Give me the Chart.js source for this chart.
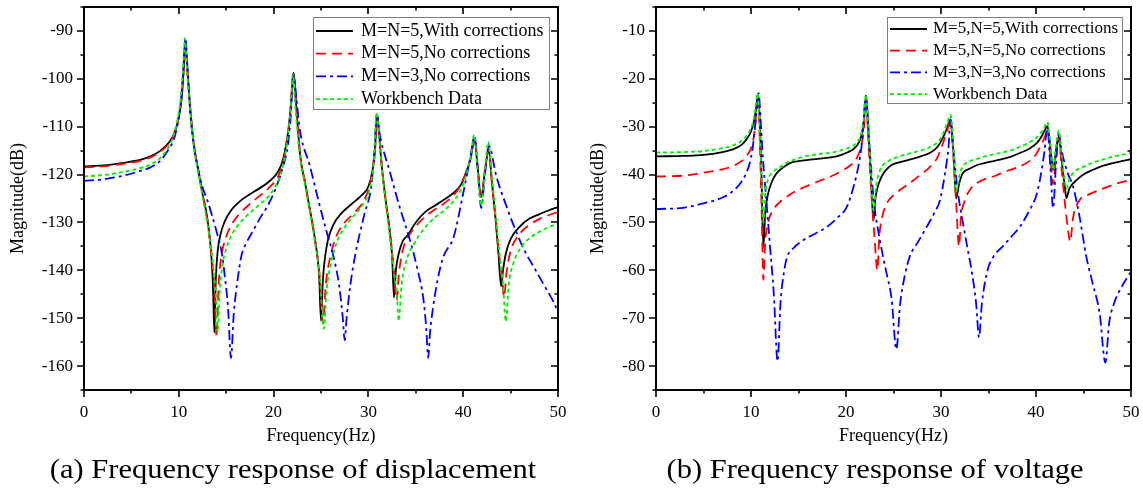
<!DOCTYPE html>
<html>
<head>
<meta charset="utf-8">
<script src="https://cdn.jsdelivr.net/npm/chart.js@4.4.0/dist/chart.umd.min.js"></script>
<style>
  body { margin: 0; background: #fff; width: 1143px; height: 503px; position: relative; overflow: hidden; }
  canvas { position: absolute; top: 0; }
  #dispChart { left: 0; }
  #voltChart { left: 571px; }
  .caption { position: absolute; top: 453px; font: 28px "Liberation Serif", serif; color: #000; white-space: nowrap; transform: translateX(-50%) scaleX(1.09); }
</style>
</head>
<body>
<canvas id="dispChart" width="571" height="455"></canvas>
<canvas id="voltChart" width="572" height="455"></canvas>
<div class="caption" style="left:293px">(a) Frequency response of displacement</div>
<div class="caption" style="left:875px">(b) Frequency response of voltage</div>
<script>
// ---- (a) displacement, dB ----
const dispFreqM5C = [0,2,4,6,7,8,9,9.5,10,10.3,10.5,10.7,10.9,11.2,11.6,12,12.5,13,13.4,13.6,13.75,13.9,14.1,14.4,14.8,15.5,16.5,18,19.5,20.5,21,21.5,21.8,22.1,22.4,22.8,23.3,23.8,24.4,24.8,25.0,25.2,25.6,26.3,27.2,28.2,29.3,30.0,30.4,30.7,30.9,31.1,31.4,31.8,32.2,32.5,32.7,32.9,33.2,33.6,34.2,35,36,37,38,39,39.8,40.4,40.8,41.2,41.5,41.9,42.3,42.7,43.0,43.4,43.7,44.0,44.2,44.5,45,46,47,48,49,50];
const dispMagM5C = [-118.3,-118.1,-117.6,-116.9,-116.2,-115.1,-113.2,-111.5,-108,-104,-98.5,-92.3,-98,-106,-114,-118.5,-124,-129,-136,-143,-153,-142,-136,-132.5,-130,-127.5,-125.5,-123.5,-121.5,-119.3,-116.8,-111.5,-106,-98.7,-106,-116,-121.5,-127,-134,-141,-150.5,-142,-135,-130.5,-128,-126.2,-124.3,-122.5,-119.5,-115,-107.5,-111,-118,-125,-131,-137,-145.7,-140,-136.5,-134,-132.5,-130,-127.8,-126.5,-125.2,-123.8,-122,-119,-116.5,-112.5,-118,-124.7,-119,-114.8,-121,-129,-136,-143.3,-140,-136.5,-133.5,-130.8,-129.2,-128.3,-127.5,-126.8];

const dispFreqM5 = [0,2,4,6,7,8,9,9.5,10,10.3,10.5,10.7,10.9,11.2,11.6,12,12.5,13,13.4,13.7,14.0,14.2,14.5,15,15.7,16.5,18,19.5,20.5,21,21.5,21.8,22.1,22.4,22.8,23.3,23.8,24.4,24.9,25.2,25.5,26,26.7,27.5,28.5,29.5,30.1,30.5,30.75,30.9,31.1,31.4,31.8,32.2,32.6,33.0,33.2,33.6,34.2,35,36,37,38,39,39.8,40.4,40.8,41.2,41.5,41.9,42.3,42.7,43.0,43.4,43.8,44.1,44.3,44.6,45,46,47,48,49,50];
const dispMagM5 = [-118.5,-118.3,-117.8,-117.1,-116.4,-115.3,-113.4,-111.6,-108,-104,-98.5,-92.3,-98,-106,-114,-118.5,-124,-129.5,-136,-142,-153.9,-143,-137,-133,-130,-128,-125.3,-122.8,-120.3,-117.5,-112,-106,-98.7,-106,-116,-121.5,-127,-134,-142,-151.1,-143,-137,-132.5,-130,-128,-125.5,-122.5,-118,-113,-107.5,-111,-118,-125,-131,-138,-146.3,-141,-136,-133,-130.8,-128.8,-127.3,-126,-124.3,-122,-119,-116.5,-112.5,-118,-124.7,-119,-114.8,-121,-129,-137,-141,-145.6,-140,-136,-132.3,-130.5,-129.3,-128.5,-127.8];

const dispFreqM3 = [0,2,4,6,7,8,9,9.5,10,10.3,10.5,10.7,10.9,11.2,11.6,12,12.5,13,13.5,14,14.5,14.9,15.2,15.5,15.8,16.2,16.6,17.2,17.9,18.6,19.3,20.3,21,21.5,21.8,22.1,22.4,22.8,23.8,24.8,25.6,26.3,26.9,27.3,27.5,27.7,28.1,28.6,29.6,30.3,30.6,30.9,31.2,32.3,33.3,34.4,35.2,35.8,36.1,36.3,36.5,36.8,37.3,37.9,39.0,40.0,40.7,41.2,41.5,41.9,42.3,42.7,43.5,44.6,45.6,46.5,47.5,48.5,49.5,50];
const dispMagM3 = [-121.3,-121,-120.3,-119.2,-118.5,-117.2,-114.5,-112.5,-108,-103,-97,-91.5,-97,-107,-114,-118.5,-122.6,-125.3,-128.5,-132,-136,-142,-148,-158.3,-149,-142,-137,-134,-131.5,-129,-126.8,-122.5,-118.3,-114,-108,-99,-104,-111,-118,-126,-132,-137,-143,-150,-154.6,-150,-143,-136.9,-128.1,-122.5,-116,-107.5,-111.6,-119.7,-126.8,-133.8,-140,-146,-152,-158.3,-153,-148,-142,-137.2,-133,-123.9,-117,-112,-118,-127,-120,-114,-120.4,-126.8,-132,-136,-139.5,-143,-146.5,-148.7];

const dispFreqWB = [0,2,4,6,7,8,9,9.5,10,10.3,10.5,10.65,10.85,11.2,11.6,12,12.5,13,13.5,13.9,14.1,14.3,14.6,15,15.6,16.5,17.5,18.5,19.5,20.3,20.9,21.4,21.8,22.05,22.3,22.8,23.3,23.8,24.4,24.9,25.3,25.6,26,26.7,27.5,28.5,29.5,30.2,30.6,30.85,31.1,31.4,31.8,32.2,32.6,33.0,33.2,33.5,34,34.8,35.8,37,38,39,39.8,40.4,40.8,41.15,41.5,41.9,42.3,42.65,43.0,43.4,43.8,44.2,44.5,44.8,45.3,46,47,48,49,50];
const dispMagWB = [-120.4,-120.1,-119.5,-118.6,-117.9,-116.6,-114,-111.5,-107,-102,-96,-91.5,-98,-106.5,-114.5,-119,-124.5,-130,-137,-145,-153,-145,-139,-135.5,-132.5,-130,-128,-126.3,-124.5,-122,-119,-113.5,-106,-99,-106,-116.5,-122,-127.5,-134.5,-142,-152.2,-144,-139,-134,-131,-128.5,-126,-122.5,-116.5,-107,-111.5,-118.5,-125.5,-132,-139,-145,-150.6,-143,-138,-134.5,-131.5,-129,-127.5,-125.5,-123,-119.5,-116,-111.7,-119,-126.5,-119,-113.1,-120,-128,-136,-143,-150.7,-143,-138.5,-135.5,-133.3,-132,-131,-130.2];

// ---- (b) voltage, dB ----
const voltFreqM5C = [0,3,5,7,8,9,9.5,10,10.3,10.55,10.75,10.95,11.1,11.3,11.5,11.8,12.2,12.7,13.4,14.1,15,16.2,17.5,19,20,21.1,21.6,21.9,22.1,22.35,22.6,22.9,23.1,23.6,24.6,25.5,26.7,28,28.8,29.6,30.1,30.6,31.0,31.3,31.6,31.9,32.3,33,33.8,35,36.2,37.3,38.3,39.3,40.1,40.6,40.9,41.2,41.5,41.8,42.1,42.4,42.7,43.0,43.2,43.5,44.3,45,46,47,48.1,49,50];
const voltMagM5C = [-36.2,-36.1,-35.9,-35.3,-34.8,-33.8,-32.7,-31,-29,-26,-23.2,-30,-40,-55.1,-48,-44,-41.5,-39.7,-38.5,-37.6,-37.2,-36.9,-36.6,-36.2,-35.5,-34.1,-32,-28.5,-23.6,-30,-40,-49.5,-45,-41.1,-38.3,-37.5,-36.9,-36.1,-35.5,-34.3,-32.7,-30.5,-28.5,-35,-45,-42,-39.7,-38.8,-38,-37.4,-36.9,-36.3,-35.5,-34.6,-33.4,-32,-30.8,-29.9,-34,-39,-35,-32,-37,-42,-44.9,-43,-41.1,-40,-39,-38.2,-37.6,-37.2,-36.8];

const voltFreqM5 = [0,3,5,7,8,9,9.5,10,10.3,10.5,10.75,10.95,11.15,11.3,11.5,11.8,12.3,13,14,15.5,17,18.5,19.5,20.5,21.1,21.6,21.9,22.1,22.35,22.7,23.0,23.3,23.5,23.8,24.3,25.2,26.7,28,28.8,29.6,30.2,30.7,31.0,31.3,31.6,31.9,32.1,32.5,33.1,34.2,35.5,37,38.3,39.3,40.1,40.6,40.9,41.2,41.5,41.8,42.1,42.4,42.7,43.1,43.4,43.6,43.9,44.6,45.5,46.7,48,49,50];
const voltMagM5 = [-40.4,-40.2,-39.6,-38.9,-38.3,-37.2,-36.2,-34.5,-32,-28.5,-23.5,-35,-50,-62,-54,-50,-47.5,-45.8,-44.3,-42.7,-41.5,-40.3,-39.3,-38,-36.7,-34,-30,-24,-33,-45,-53,-60,-53,-49,-46,-44,-41.8,-39.8,-38.5,-36.5,-33.5,-30.5,-28.5,-36,-46,-55,-49,-45.5,-43,-41.3,-40.4,-39.2,-38.3,-37.2,-35.5,-33.5,-32.3,-30.5,-36,-42,-36.5,-32.5,-39,-47,-52,-54,-49,-45.3,-44.2,-43.2,-42.2,-41.6,-41.1];

const voltFreqM3 = [0,3,5,7,8,9,9.5,10,10.3,10.5,10.8,11.0,11.2,11.6,12,12.4,12.8,13.1,13.5,13.8,14.5,15.5,16.8,18,19.1,20.1,20.8,21.3,21.7,22.1,22.4,22.9,23.5,24.2,24.8,25.3,25.7,26.2,26.7,27.6,28.5,29.3,29.9,30.4,30.8,31.0,31.3,31.8,32.3,32.8,33.3,33.7,34.0,34.3,34.9,35.5,36.5,37.4,38.3,39.3,40.1,40.6,40.9,41.2,41.5,41.8,42.1,42.4,42.7,43.3,43.9,44.6,45.3,46.0,46.7,47.3,47.7,48.2,49,50];
const voltMagM3 = [-47.2,-46.9,-46,-44.8,-43.6,-41.5,-39.7,-36.5,-32.5,-28.5,-23,-28,-35,-45,-55,-65,-79,-67,-60,-57.2,-55.3,-53.7,-52.3,-50.9,-49,-46.7,-42.5,-38.3,-33,-23.5,-32,-45,-53,-60,-66,-76.5,-67,-61,-57.2,-54,-50.9,-48,-45.3,-40,-34,-28.5,-35,-44,-50,-55.5,-61,-67,-74,-67,-60,-57.2,-55,-53,-50.9,-47.5,-43.9,-39,-35,-30,-38,-47,-38,-31.5,-35,-39.5,-42.5,-49,-57.2,-63,-69,-79.3,-71,-67,-63.5,-60.3];

const voltFreqWB = [0,3,5,7,8,9,9.5,10,10.3,10.5,10.7,10.9,11.1,11.3,11.5,11.8,12.3,13,14,15.5,17,19,20,21.1,21.6,21.9,22.1,22.35,22.6,22.9,23.2,23.6,24.6,25.5,26.7,28,28.8,29.6,30.1,30.6,31.0,31.3,31.6,31.9,32.3,33,33.8,35,36.2,37.3,38.3,39.3,40.1,40.6,40.9,41.2,41.5,41.8,42.1,42.4,42.7,43.0,43.2,43.5,44.0,45,46,47,48,49,50];
const voltMagWB = [-35.4,-35.3,-35.1,-34.5,-34,-33,-32,-30.3,-28.3,-25.5,-23,-30,-40,-50,-44,-41,-39.5,-38.5,-37.3,-36.3,-35.8,-35.2,-34.6,-33.4,-31.5,-28,-23.3,-30,-40,-47.5,-42,-39,-37,-36.3,-35.6,-34.9,-34.3,-33.3,-32,-29.5,-27.5,-34,-43.5,-40.5,-38.3,-37.3,-36.7,-36,-35.5,-35,-34.2,-33.3,-32.2,-31,-30,-29,-33.5,-39,-34,-30.8,-36,-41,-43,-41,-39.5,-38.4,-37.5,-36.9,-36.3,-35.9,-35.5];

const dispLabels = ['M=N=5,With corrections', 'M=N=5,No corrections', 'M=N=3,No corrections', 'Workbench Data'];
const voltLabels = ['M=5,N=5,With corrections', 'M=5,N=5,No corrections', 'M=3,N=3,No corrections', 'Workbench Data'];

const seriesStyles = [
  { borderColor: '#000000', borderWidth: 1.8, borderDash: [], order: 4 },
  { borderColor: '#ff0000', borderWidth: 1.8, borderDash: [10, 6], order: 3 },
  { borderColor: '#0000ff', borderWidth: 1.8, borderDash: [10, 4, 3, 4], order: 2 },
  { borderColor: '#00f000', borderWidth: 1.8, borderDash: [4, 3], order: 1 }
];

function pairUp(fs, ms) {
  return fs.map((f, i) => ({ x: f, y: ms[i] }));
}

// box frame + inward/outward tick marks like the origin plot
const frameTicks = {
  id: 'frameTicks',
  afterDraw(chart) {
    const { ctx, chartArea: a, scales: { x, y } } = chart;
    ctx.save();
    ctx.strokeStyle = '#000';
    ctx.lineWidth = 2;
    ctx.strokeRect(a.left, a.top, a.right - a.left, a.bottom - a.top);
    ctx.lineWidth = 1.6;
    ctx.beginPath();
    x.ticks.forEach(t => {
      const px = Math.round(x.getPixelForValue(t.value));
      const len = t.value % 10 === 0 ? 7 : 3.5;
      ctx.moveTo(px, a.bottom); ctx.lineTo(px, a.bottom + len);
      ctx.moveTo(px, a.top); ctx.lineTo(px, a.top + len);
    });
    y.ticks.forEach(t => {
      const py = Math.round(y.getPixelForValue(t.value));
      const len = t.value % 10 === 0 ? 7 : 3.5;
      ctx.moveTo(a.left, py); ctx.lineTo(a.left - len, py);
      ctx.moveTo(a.right, py); ctx.lineTo(a.right - len, py);
    });
    ctx.stroke();
    ctx.restore();
  }
};

const boxLegend = {
  id: 'boxLegend',
  afterDraw(chart, args, opts) {
    const { ctx } = chart;
    ctx.save();
    ctx.fillStyle = '#fff';
    ctx.fillRect(opts.left, opts.top, opts.width, opts.height);
    ctx.strokeStyle = '#7f7f7f';
    ctx.lineWidth = 1;
    ctx.strokeRect(opts.left + 0.5, opts.top + 0.5, opts.width, opts.height);
    ctx.font = opts.fontSize + 'px "Liberation Serif"';
    ctx.textBaseline = 'middle';
    chart.data.datasets.forEach((ds, i) => {
      const yy = opts.top + opts.first + i * opts.rowH;
      ctx.strokeStyle = ds.borderColor;
      ctx.lineWidth = ds.borderWidth;
      ctx.setLineDash(ds.borderDash);
      ctx.beginPath();
      ctx.moveTo(opts.left + 3, yy);
      ctx.lineTo(opts.left + 40, yy);
      ctx.stroke();
      ctx.setLineDash([]);
      ctx.fillStyle = '#000';
      ctx.fillText(ds.label, opts.left + opts.textX, yy);
    });
    ctx.restore();
  }
};

function makeChart(id, freqs, mags, labels, yMin, yMax, yAxisWidth, yTitlePad, rightPad, legendBox) {
  const datasets = freqs.map((fs, i) => Object.assign({
    label: labels[i],
    data: pairUp(fs, mags[i]),
    pointRadius: 0,
    fill: false,
    cubicInterpolationMode: 'monotone'
  }, seriesStyles[i]));

  const tickFont = { family: 'Liberation Serif', size: 17 };
  const titleFont = { family: 'Liberation Serif', size: 18 };

  return new Chart(document.getElementById(id), {
    type: 'line',
    data: { datasets: datasets },
    options: {
      responsive: false,
      animation: false,
      devicePixelRatio: 1,
      layout: { padding: { top: 7, right: rightPad, left: 0, bottom: 0 } },
      plugins: {
        legend: { display: false },
        tooltip: { enabled: false },
        boxLegend: legendBox
      },
      scales: {
        x: {
          type: 'linear',
          min: 0, max: 50,
          grid: { display: false, drawTicks: false },
          border: { display: false },
          ticks: {
            stepSize: 5, autoSkip: false, maxRotation: 0, padding: 12,
            color: '#000', font: tickFont,
            callback: v => (v % 10 === 0 ? v : '')
          },
          title: { display: true, text: 'Frequency(Hz)', color: '#000', font: titleFont, padding: { top: 0, bottom: 8 } },
          afterFit: s => { s.height = 455 - 390; s.paddingLeft = 0; s.paddingRight = 0; }
        },
        y: {
          min: yMin, max: yMax,
          grid: { display: false, drawTicks: false },
          border: { display: false },
          ticks: {
            stepSize: 5, autoSkip: false, padding: 11,
            color: '#000', font: tickFont,
            callback: v => (v % 10 === 0 ? v : '')
          },
          title: { display: true, text: 'Magnitude(dB)', color: '#000', font: titleFont, padding: { top: yTitlePad, bottom: 0 } },
          afterFit: s => { s.width = yAxisWidth; s.paddingTop = 0; s.paddingBottom = 0; }
        }
      }
    },
    plugins: [frameTicks, boxLegend]
  });
}

makeChart('dispChart',
  [dispFreqM5C, dispFreqM5, dispFreqM3, dispFreqWB],
  [dispMagM5C, dispMagM5, dispMagM3, dispMagWB],
  dispLabels, -165, -85, 84, 7, 13,
  { left: 313, top: 17, width: 236, height: 92, first: 14, rowH: 22.7, fontSize: 18, textX: 48 });

makeChart('voltChart',
  [voltFreqM5C, voltFreqM5, voltFreqM3, voltFreqWB],
  [voltMagM5C, voltMagM5, voltMagM3, voltMagWB],
  voltLabels, -85, -5, 85, 16, 12,
  { left: 316, top: 17, width: 235, height: 86, first: 12, rowH: 21.7, fontSize: 17, textX: 46 });
</script>
</body>
</html>
